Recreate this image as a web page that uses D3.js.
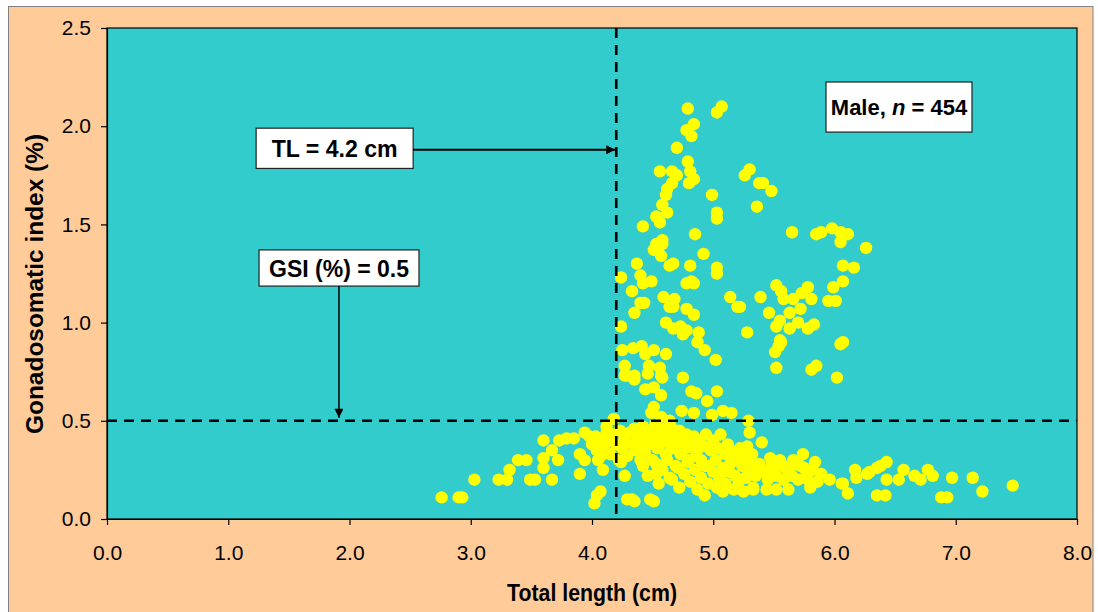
<!DOCTYPE html>
<html><head><meta charset="utf-8">
<script src="https://cdn.jsdelivr.net/npm/d3@7"></script>
<style>
body{margin:0;background:#ffffff;}
svg{display:block;font-family:"Liberation Sans",Arial,sans-serif;}
</style>
</head><body>
<svg id="chart" width="1098" height="612"></svg>
<script>
// ---- data ----
const totalLength = [
 4.79,5.07,5.03,4.84,4.78,4.82,4.70,4.79,4.56,4.66,4.70,4.66,4.81,4.84,4.80,4.62,4.61,5.26,5.30,4.99,
 4.58,4.53,4.62,4.56,4.42,5.03,5.03,4.85,5.38,5.36,4.58,5.41,5.48,5.65,5.85,5.89,5.98,6.05,6.11,6.05,
 6.26,6.07,6.16,6.07,5.99,5.95,6.01,5.52,5.56,5.39,5.58,5.66,5.73,5.78,5.81,5.72,5.63,5.46,5.55,5.52,
 5.70,5.63,5.83,5.78,5.28,5.22,5.55,5.56,5.51,5.54,6.07,6.05,5.52,5.85,5.81,6.02,
 4.53,4.58,4.51,4.57,4.92,4.37,4.64,4.67,4.81,5.03,5.03,4.24,4.40,4.42,4.49,4.78,4.82,4.84,4.33,4.59,
 4.68,4.64,4.67,4.40,4.43,4.35,4.78,4.84,5.14,5.20,4.24,4.61,4.67,4.73,4.78,4.75,4.88,4.87,4.93,5.02,
 4.25,4.34,4.41,4.44,4.51,4.61,4.27,4.27,4.35,4.47,4.46,4.56,4.58,4.75,
 4.29,4.35,4.57,4.44,4.51,4.57,4.82,4.86,4.95,5.03,4.51,4.49,4.18,4.12,4.57,4.64,4.74,4.84,4.99,5.08,
 5.15,5.29,
 5.30,5.40,5.28,5.25,5.47,5.58,5.66,5.74,5.84,5.34,5.50,5.63,5.77,5.33,5.44,5.52,5.62,5.80,5.89,5.96,
 6.07,6.11,6.17,6.27,6.35,6.43,6.43,6.53,6.57,6.66,6.35,6.42,7.47,7.22,7.14,6.97,6.88,6.93,6.81,6.77,
 6.71,6.29,6.18,6.06,5.72,6.38,
 2.76,2.90,2.93,3.03,3.23,3.30,3.32,3.39,3.46,3.49,3.53,3.60,3.60,3.67,3.72,3.67,3.60,3.73,3.79,3.85,
 3.90,3.94,3.90,3.94,4.01,4.04,4.07,4.09,4.12,4.07,4.02,4.04,4.27,4.24,4.29,4.35,4.33,4.51,4.48,4.40,
 4.53,4.53,4.66,4.71,4.93,5.08,5.21,5.33,
 3.98,4.00,4.03,4.05,4.08,4.10,4.14,4.15,4.17,4.20,4.22,4.23,4.25,4.27,4.29,4.31,4.33,4.35,4.36,4.38,
 4.40,4.42,4.44,4.45,4.47,4.48,4.50,4.52,4.54,4.55,4.57,4.58,4.60,4.61,4.63,4.65,4.66,4.68,4.70,4.72,
 4.73,4.75,4.77,4.78,4.80,4.82,4.84,4.86,4.88,4.90,4.92,4.94,4.96,4.98,5.00,5.02,5.04,5.06,5.08,5.10,
 5.12,5.14,5.16,5.18,5.20,5.22,5.24,5.27,5.30,5.32,5.35,5.38,5.42,5.45,5.48,5.52,5.55,5.58,5.60,5.65,
 5.68,5.70,5.75,5.78,5.82,5.86,
 4.42,4.46,4.50,4.55,4.58,4.62,4.64,4.69,4.72,4.76,4.79,4.81,4.85,4.87,4.90,4.93,4.96,5.00,5.03,5.05,
 5.10,5.13,5.17,5.22,5.25,5.29
];
const gsi = [
 2.09,2.10,2.07,2.01,1.98,1.95,1.89,1.82,1.77,1.77,1.75,1.71,1.77,1.73,1.71,1.68,1.65,1.75,1.78,1.65,
 1.60,1.54,1.56,1.51,1.49,1.56,1.53,1.45,1.71,1.59,1.42,1.71,1.67,1.46,1.45,1.46,1.48,1.46,1.45,1.41,
 1.38,1.29,1.28,1.21,1.18,1.11,1.11,1.19,1.16,1.13,1.12,1.12,1.15,1.18,1.12,1.07,1.05,1.05,1.01,0.98,
 1.00,0.97,0.99,0.97,0.95,1.08,0.91,0.90,0.85,0.88,0.90,0.89,0.77,0.78,0.76,0.72,
 1.40,1.40,1.37,1.34,1.35,1.30,1.29,1.30,1.29,1.28,1.25,1.23,1.24,1.20,1.21,1.20,1.21,1.20,1.16,1.13,
 1.12,1.08,1.08,1.10,1.10,1.05,1.07,1.04,1.13,1.08,0.98,1.00,0.97,0.98,0.96,0.94,0.95,0.90,0.86,0.81,
 0.86,0.87,0.88,0.84,0.86,0.84,0.78,0.73,0.73,0.78,0.74,0.77,0.72,0.72,
 0.73,0.71,0.73,0.66,0.67,0.63,0.65,0.64,0.60,0.65,0.57,0.54,0.51,0.47,0.52,0.50,0.55,0.54,0.53,0.55,
 0.54,0.50,
 0.44,0.39,0.37,0.33,0.31,0.27,0.30,0.33,0.29,0.25,0.25,0.23,0.22,0.16,0.15,0.15,0.15,0.16,0.23,0.20,
 0.18,0.13,0.25,0.23,0.26,0.29,0.20,0.20,0.25,0.22,0.12,0.12,0.17,0.14,0.21,0.21,0.11,0.11,0.22,0.25,
 0.20,0.24,0.21,0.18,0.27,0.27,
 0.11,0.11,0.11,0.20,0.20,0.20,0.25,0.30,0.30,0.20,0.20,0.31,0.26,0.20,0.30,0.35,0.40,0.40,0.41,0.41,
 0.33,0.30,0.23,0.44,0.40,0.35,0.32,0.25,0.44,0.14,0.08,0.12,0.22,0.29,0.10,0.09,0.10,0.09,0.10,0.30,
 0.28,0.23,0.20,0.26,0.12,0.14,0.19,0.15,
 0.42,0.38,0.42,0.30,0.40,0.37,0.40,0.33,0.43,0.38,0.30,0.45,0.36,0.41,0.32,0.44,0.38,0.46,0.35,0.42,
 0.38,0.47,0.33,0.41,0.45,0.38,0.43,0.48,0.36,0.42,0.46,0.39,0.44,0.33,0.40,0.47,0.36,0.42,0.38,0.45,
 0.33,0.40,0.36,0.43,0.30,0.38,0.42,0.34,0.40,0.30,0.37,0.43,0.27,0.35,0.40,0.30,0.36,0.43,0.26,0.33,
 0.38,0.28,0.34,0.22,0.30,0.36,0.27,0.21,0.28,0.33,0.22,0.28,0.24,0.20,0.27,0.22,0.30,0.20,0.26,0.22,
 0.28,0.20,0.26,0.20,0.25,0.19,
 0.27,0.22,0.30,0.18,0.25,0.30,0.21,0.27,0.16,0.23,0.29,0.19,0.25,0.15,0.21,0.27,0.18,0.24,0.16,0.21,
 0.18,0.24,0.15,0.20,0.14,0.24
];
const xTicks = [0, 1, 2, 3, 4, 5, 6, 7, 8];
const yTicks = [0, 0.5, 1.0, 1.5, 2.0, 2.5];
const xTitle = "Total length (cm)";
const yTitle = "Gonadosomatic index (%)";
const tlThreshold = 4.2;   // cm
const gsiThreshold = 0.5;  // %
const tlLabel = "TL = 4.2 cm";
const gsiLabel = "GSI (%) = 0.5";
const sampleSize = 454;

// ---- drawing ----
const svg = d3.select("#chart");
const plot = {left: 107, right: 1077, top: 28, bottom: 519};

const x = d3.scaleLinear().domain([0, 8]).range([plot.left, plot.right]);
const y = d3.scaleLinear().domain([0, 2.5]).range([plot.bottom, plot.top]);

// outer chart area
svg.append("rect").attr("x", 8.5).attr("y", 6.5).attr("width", 1084.5).attr("height", 640)
  .attr("fill", "#FFCC99").attr("stroke", "#808080").attr("stroke-width", 1);

// plot area
svg.append("rect").attr("x", plot.left).attr("y", plot.top)
  .attr("width", plot.right - plot.left).attr("height", plot.bottom - plot.top)
  .attr("fill", "#33CCCC").attr("stroke", "#000").attr("stroke-width", 1.2);

// points
const pts = totalLength.map((v, i) => ({tl: v, g: gsi[i]}));
svg.append("g").selectAll("circle").data(pts).join("circle")
  .attr("cx", d => x(d.tl)).attr("cy", d => y(d.g)).attr("r", 6.2)
  .attr("fill", "#FFFF00");

// threshold lines
svg.append("line")
  .attr("x1", x(tlThreshold)).attr("x2", x(tlThreshold))
  .attr("y1", y(2.5)).attr("y2", y(0))
  .attr("stroke", "#000").attr("stroke-width", 2.6).attr("stroke-dasharray", "10,7");
svg.append("line")
  .attr("x1", x(0)).attr("x2", x(8))
  .attr("y1", y(gsiThreshold)).attr("y2", y(gsiThreshold))
  .attr("stroke", "#000").attr("stroke-width", 2.6).attr("stroke-dasharray", "10,7");

// axes
const axFont = 21;
const yAxis = svg.append("g").attr("transform", `translate(${plot.left},0)`)
  .call(d3.axisLeft(y).tickValues(yTicks).tickFormat(d3.format(".1f")).tickSize(6).tickSizeOuter(0).tickPadding(10));
const xAxis = svg.append("g").attr("transform", `translate(0,${plot.bottom})`)
  .call(d3.axisBottom(x).tickValues(xTicks).tickFormat(d3.format(".1f")).tickSize(6).tickSizeOuter(0).tickPadding(20));
[yAxis, xAxis].forEach(a => {
  a.selectAll("text").attr("font-size", axFont).attr("fill", "#000")
    .attr("font-family", '"Liberation Sans", Arial, sans-serif');
  a.selectAll("line").attr("stroke", "#000").attr("stroke-width", 1.2);
  a.select(".domain").attr("stroke", "#000").attr("stroke-width", 1.2);
});

// axis titles
svg.append("text").attr("x", 592).attr("y", 601).attr("text-anchor", "middle")
  .attr("font-size", 23).attr("font-weight", "bold").attr("textLength", 170)
  .attr("lengthAdjust", "spacingAndGlyphs").text(xTitle);
svg.append("text").attr("transform", "translate(43,284) rotate(-90)").attr("text-anchor", "middle")
  .attr("font-size", 24).attr("font-weight", "bold").attr("textLength", 300)
  .attr("lengthAdjust", "spacingAndGlyphs").text(yTitle);

// arrow marker
svg.append("defs").append("marker").attr("id", "arr")
  .attr("viewBox", "0 0 10 10").attr("refX", 10).attr("refY", 5)
  .attr("markerWidth", 11).attr("markerHeight", 9).attr("markerUnits", "userSpaceOnUse")
  .attr("orient", "auto")
  .append("path").attr("d", "M0,0 L10,5 L0,10 z").attr("fill", "#000");

// TL annotation box (positions in data units)
const tlBox = {x0: 1.23, x1: 2.525, yTop: 1.99, yBot: 1.785, arrowY: 1.88};
svg.append("rect").attr("x", x(tlBox.x0)).attr("y", y(tlBox.yTop))
  .attr("width", x(tlBox.x1) - x(tlBox.x0)).attr("height", y(tlBox.yBot) - y(tlBox.yTop))
  .attr("fill", "#fff").attr("stroke", "#222").attr("stroke-width", 1.2);
svg.append("text").attr("x", (x(tlBox.x0) + x(tlBox.x1)) / 2).attr("y", y(tlBox.yTop) + 29)
  .attr("text-anchor", "middle").attr("font-size", 24).attr("font-weight", "bold")
  .attr("textLength", 126).attr("lengthAdjust", "spacingAndGlyphs").text(tlLabel);
svg.append("line").attr("x1", x(tlBox.x1)).attr("x2", x(tlThreshold) - 1)
  .attr("y1", y(tlBox.arrowY)).attr("y2", y(tlBox.arrowY))
  .attr("stroke", "#000").attr("stroke-width", 2).attr("marker-end", "url(#arr)");

// GSI annotation box
const gsiBox = {x0: 1.254, x1: 2.573, yTop: 1.37, yBot: 1.186, arrowX: 1.913};
svg.append("rect").attr("x", x(gsiBox.x0)).attr("y", y(gsiBox.yTop))
  .attr("width", x(gsiBox.x1) - x(gsiBox.x0)).attr("height", y(gsiBox.yBot) - y(gsiBox.yTop))
  .attr("fill", "#fff").attr("stroke", "#222").attr("stroke-width", 1.2);
svg.append("text").attr("x", (x(gsiBox.x0) + x(gsiBox.x1)) / 2).attr("y", y(gsiBox.yTop) + 27)
  .attr("text-anchor", "middle").attr("font-size", 23).attr("font-weight", "bold")
  .attr("textLength", 140).attr("lengthAdjust", "spacingAndGlyphs").text(gsiLabel);
svg.append("line").attr("x1", x(gsiBox.arrowX)).attr("x2", x(gsiBox.arrowX))
  .attr("y1", y(gsiBox.yBot)).attr("y2", y(gsiThreshold) - 3)
  .attr("stroke", "#000").attr("stroke-width", 1.5).attr("marker-end", "url(#arr)");

// sample size box
const nBox = {x0: 5.93, x1: 7.134, yTop: 2.225, yBot: 1.97};
svg.append("rect").attr("x", x(nBox.x0)).attr("y", y(nBox.yTop))
  .attr("width", x(nBox.x1) - x(nBox.x0)).attr("height", y(nBox.yBot) - y(nBox.yTop))
  .attr("fill", "#fff").attr("stroke", "#222").attr("stroke-width", 1.2);
const nt = svg.append("text").attr("x", (x(nBox.x0) + x(nBox.x1)) / 2).attr("y", y(nBox.yTop) + 33)
  .attr("text-anchor", "middle").attr("font-size", 22).attr("font-weight", "bold");
nt.append("tspan").text("Male, ");
nt.append("tspan").attr("font-style", "italic").text("n");
nt.append("tspan").text(" = " + sampleSize);
</script>
</body></html>
